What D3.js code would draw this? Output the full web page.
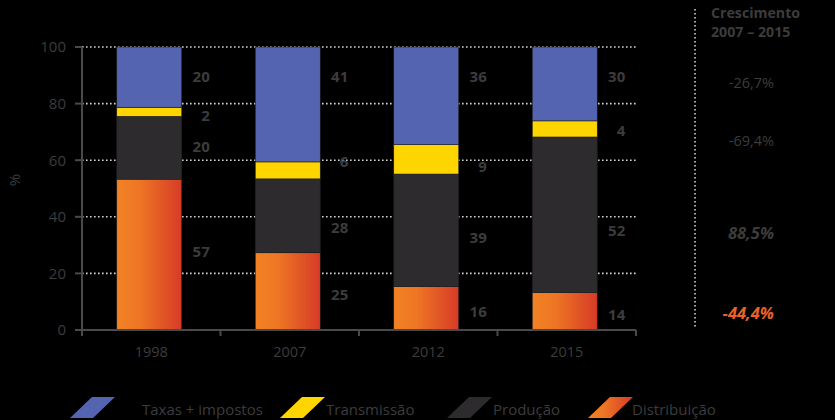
<!DOCTYPE html>
<html>
<head>
<meta charset="utf-8">
<script src="https://cdn.jsdelivr.net/npm/d3@7"></script>
<style>
  html, body { margin: 0; padding: 0; background: #000; }
  svg { display: block; font-family: "Open Sans", sans-serif; }
</style>
</head>
<body>
<div id="chart"></div>
<script>
// Anos e séries (de baixo para cima na pilha)
const years = ['1998', '2007', '2012', '2015'];
const seriesNames = ['Distribuição', 'Produção', 'Transmissão', 'Taxas + impostos'];

// Alturas desenhadas (%)
const distribuicao = [53.3, 27.3, 15.3, 13.2];
const producao     = [22.2, 26.1, 39.8, 55.0];
const transmissao  = [3.2, 6.0, 10.4, 5.7];
const taxas        = [21.3, 40.6, 34.5, 26.1];

// Rótulos impressos ao lado das barras
const distribuicaoLbl = [57, 25, 16, 14];
const producaoLbl     = [20, 28, 39, 52];
const transmissaoLbl  = [2, 6, 9, 4];
const taxasLbl        = [20, 41, 36, 30];

// Crescimento 2007 – 2015 (taxas, transmissão, produção, distribuição)
const growth = ['-26,7%', '-69,4%', '88,5%', '-44,4%'];

const yTicks = [0, 20, 40, 60, 80, 100];

// layout
const W = 835, H = 420;
const colors = {
  'Taxas + impostos': '#5564b0',
  'Transmissão': '#ffd500',
  'Produção': '#2d2b2e',
  'Distribuição': 'url(#orangeGrad)'
};
const textGrey = '#3c3c3c';
const axisGrey = '#4a4a4a';

const svg = d3.select('#chart').append('svg')
  .attr('width', W).attr('height', H);

svg.append('rect').attr('width', W).attr('height', H).attr('fill', '#000');

const grad = svg.append('defs').append('linearGradient')
  .attr('id', 'orangeGrad').attr('x1', '0%').attr('x2', '100%').attr('y1', '0%').attr('y2', '0%');
grad.append('stop').attr('offset', '0%').attr('stop-color', '#f28224');
grad.append('stop').attr('offset', '35%').attr('stop-color', '#ee7624');
grad.append('stop').attr('offset', '100%').attr('stop-color', '#d63b27');

const x = d3.scaleBand().domain(years).range([82, 636]);
const y = d3.scaleLinear().domain([0, 100]).range([330, 47]);
const barW = 65;

// gridlines
svg.append('g').selectAll('line')
  .data(yTicks.filter(d => d > 0))
  .enter().append('line')
  .attr('x1', 82).attr('x2', 636)
  .attr('y1', d => y(d)).attr('y2', d => y(d))
  .attr('stroke', '#d4d4d4')
  .attr('stroke-width', 1.6)
  .attr('stroke-dasharray', '1.6,2.4');

// stacked bars
const rows = years.map((yr, i) => ({
  year: yr,
  'Distribuição': distribuicao[i],
  'Produção': producao[i],
  'Transmissão': transmissao[i],
  'Taxas + impostos': taxas[i]
}));
const stack = d3.stack().keys(seriesNames)(rows);

svg.append('g').selectAll('g')
  .data(stack)
  .enter().append('g')
  .attr('fill', d => colors[d.key])
  .selectAll('rect')
  .data(d => d)
  .enter().append('rect')
  .attr('x', d => x(d.data.year) + (x.bandwidth() - barW) / 2 - 2)
  .attr('width', barW)
  .attr('y', d => y(d[1]))
  .attr('height', d => y(d[0]) - y(d[1]))
  .attr('stroke', '#1e1e1e')
  .attr('stroke-width', 0.6);

// value labels (text centre in % units, per series)
const labelSets = [
  { vals: taxasLbl, at: [89.4, 89.4, 89.4, 89.4] },
  { vals: transmissaoLbl, at: [75.9, 59.6, 57.6, 70.6] },
  { vals: producaoLbl, at: [64.7, 36.1, 32.7, 35.3] },
  { vals: distribuicaoLbl, at: [27.6, 12.6, 6.5, 5.3] }
];
labelSets.forEach(set => {
  svg.append('g').selectAll('text')
    .data(years)
    .enter().append('text')
    .attr('x', d => x(d) + (x.bandwidth() + barW) / 2 - 2 + 28)
    .attr('y', (d, i) => y(set.at[i]))
    .attr('dy', '0.36em')
    .attr('text-anchor', 'end')
    .attr('font-size', 15)
    .attr('font-weight', 700)
    .attr('fill', textGrey)
    .text((d, i) => set.vals[i]);
});

// y axis
const yAxis = svg.append('g').attr('transform', 'translate(82,0)');
yAxis.append('line').attr('y1', y(100)).attr('y2', y(0))
  .attr('stroke', axisGrey).attr('stroke-width', 2);
yAxis.selectAll('.tk').data(yTicks).enter().append('line')
  .attr('x1', -7).attr('x2', 0)
  .attr('y1', d => y(d)).attr('y2', d => y(d))
  .attr('stroke', axisGrey).attr('stroke-width', 2);
yAxis.selectAll('text').data(yTicks).enter().append('text')
  .attr('x', -16).attr('y', d => y(d)).attr('dy', '0.36em')
  .attr('text-anchor', 'end')
  .attr('font-size', 15)
  .attr('fill', textGrey)
  .text(d => d);

svg.append('text')
  .attr('transform', 'translate(20,180) rotate(-90)')
  .attr('text-anchor', 'middle')
  .attr('font-size', 15)
  .attr('fill', textGrey)
  .text('%');

// x axis
const xAxis = svg.append('g').attr('transform', 'translate(0,330)');
xAxis.append('line').attr('x1', 82).attr('x2', 636)
  .attr('stroke', axisGrey).attr('stroke-width', 2);
const bounds = years.map(d => x(d)).concat([x.range()[1]]);
xAxis.selectAll('.tk').data(bounds).enter().append('line')
  .attr('x1', d => d).attr('x2', d => d)
  .attr('y1', 0).attr('y2', 6)
  .attr('stroke', axisGrey).attr('stroke-width', 2);
xAxis.selectAll('text').data(years).enter().append('text')
  .attr('x', d => x(d) + x.bandwidth() / 2)
  .attr('y', 27)
  .attr('text-anchor', 'middle')
  .attr('font-size', 14.5)
  .attr('fill', textGrey)
  .text(d => d);

// growth panel
svg.append('line')
  .attr('x1', 695).attr('x2', 695).attr('y1', 9).attr('y2', 327)
  .attr('stroke', '#d4d4d4').attr('stroke-width', 1.6)
  .attr('stroke-dasharray', '1.6,2.4');

svg.append('text')
  .attr('x', 711).attr('y', 18)
  .attr('font-size', 14.2).attr('font-weight', 700).attr('fill', textGrey)
  .text('Crescimento');
svg.append('text')
  .attr('x', 711).attr('y', 37)
  .attr('font-size', 14.2).attr('font-weight', 700).attr('fill', textGrey)
  .text('2007 – 2015');

const growthAt = [87.5, 66.7, 34.2, 6.0];
svg.append('g').selectAll('text')
  .data(growth)
  .enter().append('text')
  .attr('x', 774)
  .attr('y', (d, i) => y(growthAt[i]))
  .attr('dy', '0.36em')
  .attr('text-anchor', 'end')
  .attr('font-size', (d, i) => i < 2 ? 14.5 : 16.5)
  .attr('font-weight', (d, i) => i < 2 ? 400 : 700)
  .attr('font-style', (d, i) => i < 2 ? 'normal' : 'italic')
  .attr('fill', (d, i) => i === 3 ? '#e8622a' : textGrey)
  .text(d => d);

// legend
const legendOrder = ['Taxas + impostos', 'Transmissão', 'Produção', 'Distribuição'];
const legendX = [70, 280, 447, 588];
const legendTextX = [142, 326, 493, 632];
const lg = svg.append('g').selectAll('g')
  .data(legendOrder)
  .enter().append('g');
lg.append('path')
  .attr('d', (d, i) => {
    const x0 = legendX[i];
    return `M${x0},418 L${x0 + 22},397 L${x0 + 45},397 L${x0 + 23},418 Z`;
  })
  .attr('fill', d => colors[d]);
lg.append('text')
  .attr('x', (d, i) => legendTextX[i])
  .attr('y', 410)
  .attr('dy', '0.36em')
  .attr('font-size', 15)
  .attr('fill', textGrey)
  .text(d => d);
</script>
</body>
</html>
